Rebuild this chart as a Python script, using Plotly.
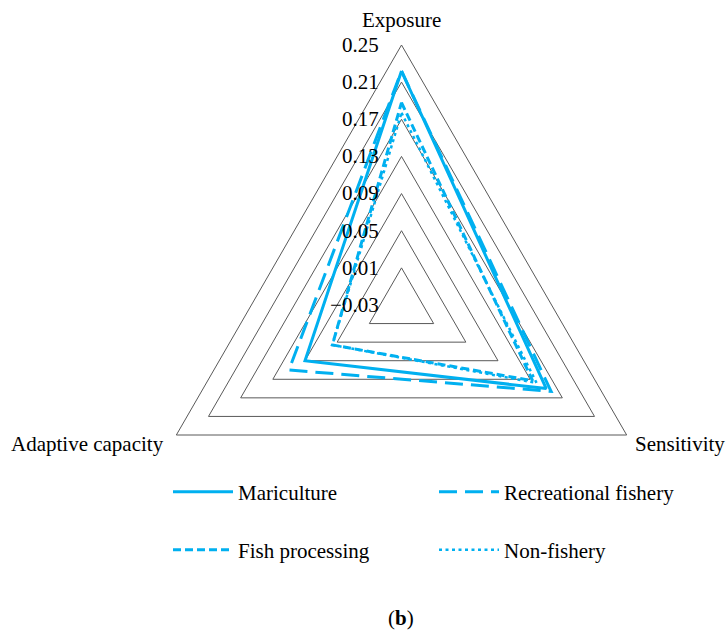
import plotly.graph_objects as go

axes = ["Exposure", "Sensitivity", "Adaptive capacity"]
mariculture = [0.222, 0.150, 0.090]
recreational = [0.222, 0.156, 0.110]
fish_processing = [0.188, 0.133, 0.056]
non_fishery = [0.177, 0.138, 0.056]
tick_vals = [-0.03, 0.01, 0.05, 0.09, 0.13, 0.17, 0.21, 0.25]

BLUE = "#00b0f0"
FONT = "Liberation Serif"
FS = 21

series = [
    ("Mariculture", mariculture, dict(color=BLUE, width=3, dash="solid"), "legend"),
    ("Recreational fishery", recreational, dict(color=BLUE, width=3, dash="18px,8px"), "legend2"),
    ("Fish processing", fish_processing, dict(color=BLUE, width=3, dash="8px,4px"), "legend3"),
    ("Non-fishery", non_fishery, dict(color=BLUE, width=2.5, dash="3px,3.5px"), "legend4"),
]

fig = go.Figure()
for name, vals, line, lg in series:
    fig.add_trace(go.Scatterpolar(
        r=vals + [vals[0]], theta=axes + [axes[0]], mode="lines", name=name,
        line=line, legend=lg,
    ))

W, H = 728, 635
cx, cy, R = 401.5, 305, 260


def leg(x_px, y_px):
    return dict(x=x_px / W, y=1 - y_px / H, xanchor="left", yanchor="middle",
                font=dict(family=FONT, size=FS, color="black"), itemwidth=60,
                bgcolor="rgba(0,0,0,0)", borderwidth=0)


fig.update_layout(
    width=W, height=H, margin=dict(l=0, r=0, t=0, b=0),
    paper_bgcolor="white", plot_bgcolor="white",
    font=dict(family=FONT, size=FS, color="black"),
    polar=dict(
        domain=dict(x=[(cx - R) / W, (cx + R) / W], y=[1 - (cy + R) / H, 1 - (cy - R) / H]),
        gridshape="linear", bgcolor="white",
        radialaxis=dict(range=[-0.03, 0.25], tickvals=tick_vals, tickformat=".2f",
                        angle=90, tickangle=90, showline=False,
                        ticks="outside", ticklen=15, tickcolor="rgba(0,0,0,0)",
                        gridcolor="#595959", gridwidth=1, side="counterclockwise",
                        tickfont=dict(family=FONT, size=FS, color="black")),
        angularaxis=dict(rotation=90, direction="clockwise", showgrid=False,
                         showticklabels=False, ticks="", linecolor="#595959", linewidth=1),
    ),
    legend=leg(168, 492),
    legend2=leg(434, 492),
    legend3=leg(168, 550),
    legend4=leg(434, 550),
    showlegend=True,
)

fig.add_annotation(text="Exposure", x=401 / W, y=1 - 20 / H, xref="paper", yref="paper",
                   showarrow=False, xanchor="center", yanchor="middle", font=dict(size=FS))
fig.add_annotation(text="Sensitivity", x=727 / W, y=1 - 444 / H, xref="paper", yref="paper",
                   showarrow=False, xanchor="right", yanchor="middle", font=dict(size=FS))
fig.add_annotation(text="Adaptive capacity", x=166 / W, y=1 - 444 / H, xref="paper", yref="paper",
                   showarrow=False, xanchor="right", yanchor="middle", font=dict(size=FS))
fig.add_annotation(text="(<b>b</b>)", x=401 / W, y=1 - 618 / H, xref="paper", yref="paper",
                   showarrow=False, xanchor="center", yanchor="middle", font=dict(size=FS))

fig.write_html("out.html", config={"displayModeBar": False},
               post_script="document.body.style.margin='0';")
